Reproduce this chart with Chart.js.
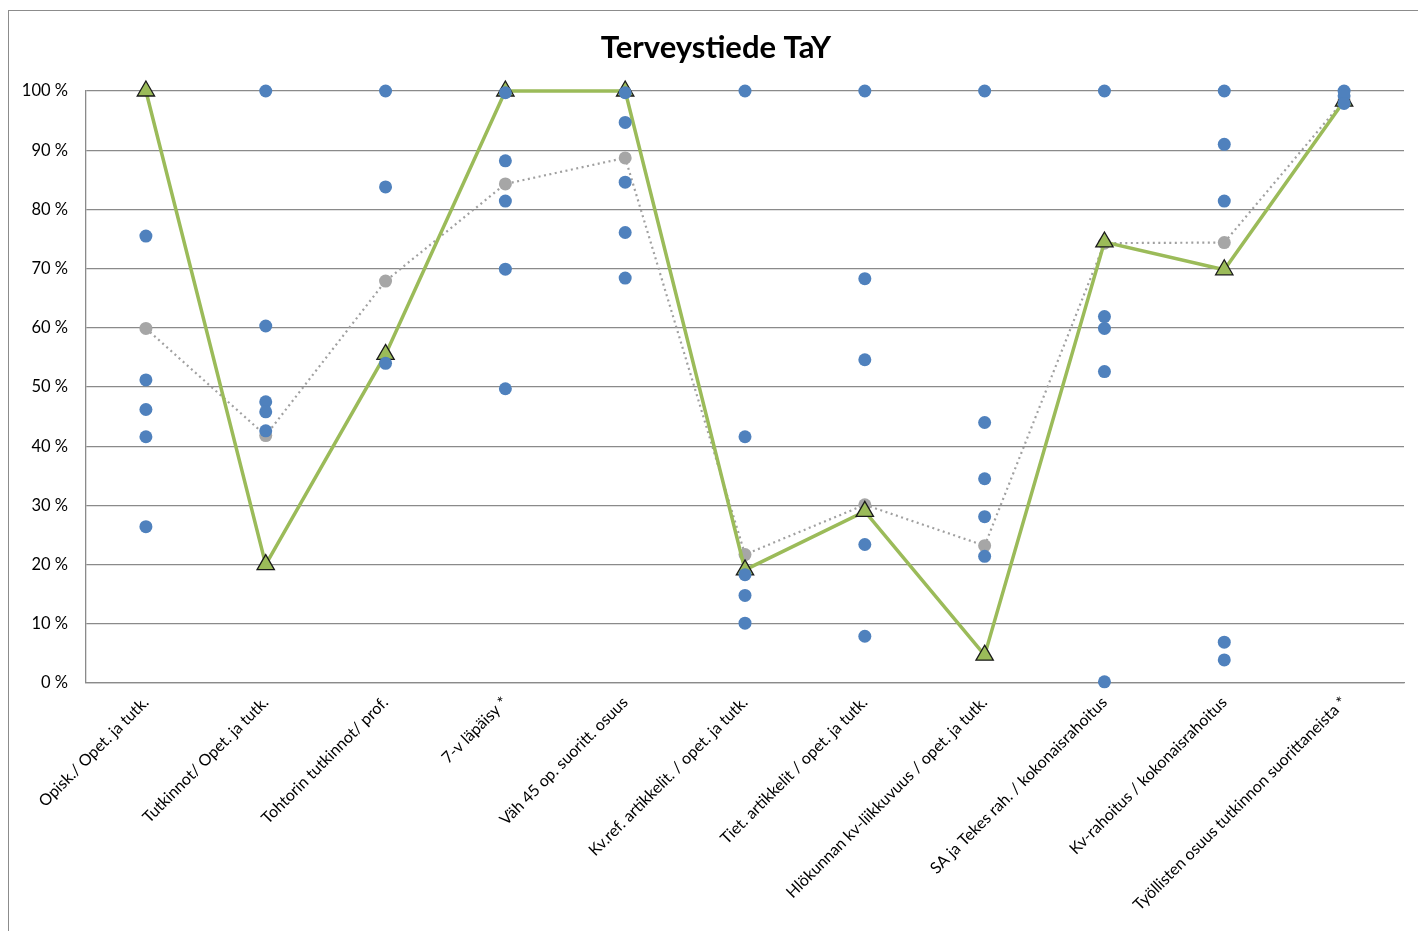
<!DOCTYPE html>
<html>
<head>
<meta charset="utf-8">
<script src="https://cdn.jsdelivr.net/npm/chart.js@4"></script>
<style>
  html, body { margin: 0; padding: 0; background: #fff; overflow: hidden; }
  #wrap { width: 1418px; height: 931px; }
</style>
</head>
<body>
<div id="wrap"><canvas id="myChart" width="1418" height="931"></canvas></div>
<script>
// categories (x axis)
const categories = [
    'Opisk./ Opet. ja tutk.',
    'Tutkinnot/ Opet. ja tutk.',
    'Tohtorin tutkinnot/ prof.',
    '7-v läpäisy *',
    'Väh 45 op. suoritt. osuus',
    'Kv.ref. artikkelit. / opet. ja tutk.',
    'Tiet. artikkelit / opet. ja tutk.',
    'Hlökunnan kv-liikkuvuus / opet. ja tutk.',
    'SA ja Tekes rah. / kokonaisrahoitus',
    'Kv-rahoitus / kokonaisrahoitus',
    'Työllisten osuus tutkinnon suorittaneista *'
];

// Terveystiede TaY (green line, triangles)
const tayValues = [100, 20, 55.5, 100, 100, 19.1, 29.0, 4.7, 74.5, 69.8, 98.3];

// average (grey dotted line)
const avgValues = [59.9, 41.8, 67.9, 84.3, 88.7, 21.7, 30.1, 23.2, 74.3, 74.4, 98.5];

// other units (blue dots), one list per category
const otherValues = [
    [75.5, 51.2, 46.2, 41.6, 26.4],
    [100, 60.3, 47.5, 45.8, 42.6],
    [100, 83.8, 54.0],
    [99.7, 88.2, 81.4, 69.9, 49.7],
    [99.7, 94.7, 84.6, 76.1, 68.4],
    [100, 41.6, 18.3, 14.8, 10.1],
    [100, 68.3, 54.6, 23.4, 7.9],
    [100, 44.0, 34.5, 28.1, 21.4],
    [100, 61.9, 59.9, 52.6, 0.2],
    [100, 91.0, 81.4, 6.9, 3.9],
    [100, 99.2, 97.9]
];

const yTicks = [0, 10, 20, 30, 40, 50, 60, 70, 80, 90, 100];
const chartTitle = 'Terveystiede TaY';

const otherPoints = [];
otherValues.forEach((vals, i) => {
    vals.forEach(v => otherPoints.push({ x: categories[i], y: v }));
});

// white background, outer frame and title like the original
const framePlugin = {
    id: 'frame',
    beforeDraw(chart) {
        const c = chart.ctx;
        c.save();
        c.fillStyle = '#fff';
        c.fillRect(0, 0, chart.width, chart.height);
        c.strokeStyle = '#8c8c8c';
        c.lineWidth = 1;
        c.strokeRect(8.5, 10.5, chart.width + 20, chart.height + 20);
        c.fillStyle = '#000';
        c.font = 'bold 31px Lato';
        c.textAlign = 'center';
        c.textBaseline = 'middle';
        c.fillText(chartTitle, 716, 48);
        c.restore();
    }
};

const ctx = document.getElementById('myChart').getContext('2d');
const myChart = new Chart(ctx, {
    type: 'line',
    data: {
        labels: categories,
        datasets: [
            {
                label: 'Muut',
                data: otherPoints,
                showLine: false,
                pointStyle: 'circle',
                pointRadius: 6.5,
                pointBackgroundColor: '#4f81bd',
                pointBorderColor: '#4f81bd',
                pointBorderWidth: 0,
                order: 0,
                clip: false
            },
            {
                label: 'Terveystiede TaY',
                data: tayValues,
                borderColor: '#9bbb59',
                borderWidth: 3.5,
                pointStyle: 'triangle',
                pointRadius: 10,
                pointBackgroundColor: '#9bbb59',
                pointBorderColor: '#1a1a1a',
                pointBorderWidth: 1.3,
                tension: 0,
                order: 1,
                clip: false
            },
            {
                label: 'Keskiarvo',
                data: avgValues,
                borderColor: '#a0a0a0',
                borderWidth: 2.2,
                borderDash: [2, 3.5],
                pointStyle: 'circle',
                pointRadius: 6.5,
                pointBackgroundColor: '#a6a6a6',
                pointBorderColor: '#a6a6a6',
                pointBorderWidth: 0,
                tension: 0,
                order: 2,
                clip: false
            }
        ]
    },
    options: {
        responsive: false,
        animation: false,
        layout: { padding: { top: 91, right: 14, bottom: 0, left: 0 } },
        plugins: {
            legend: { display: false },
            tooltip: { enabled: false },
            title: { display: false }
        },
        scales: {
            x: {
                type: 'category',
                offset: true,
                grid: { display: false, drawTicks: false },
                border: { display: true, color: '#8a8a8a', width: 1.3 },
                ticks: {
                    color: '#000',
                    font: { family: 'Lato', size: 16 },
                    minRotation: 45,
                    maxRotation: 45,
                    padding: 10,
                    autoSkip: false
                },
                afterFit(scale) { scale.height = 248; }
            },
            y: {
                min: 0,
                max: 100,
                afterBuildTicks(scale) { scale.ticks = yTicks.map(v => ({ value: v })); },
                grid: { color: '#8a8a8a', lineWidth: 1.3, drawTicks: false },
                border: { display: true, color: '#8a8a8a', width: 1.3 },
                ticks: {
                    color: '#000',
                    font: { family: 'Lato', size: 16.5 },
                    padding: 18,
                    callback: v => v + ' %'
                },
                afterFit(scale) { scale.width = 86; }
            }
        }
    },
    plugins: [framePlugin]
});
</script>
</body>
</html>
